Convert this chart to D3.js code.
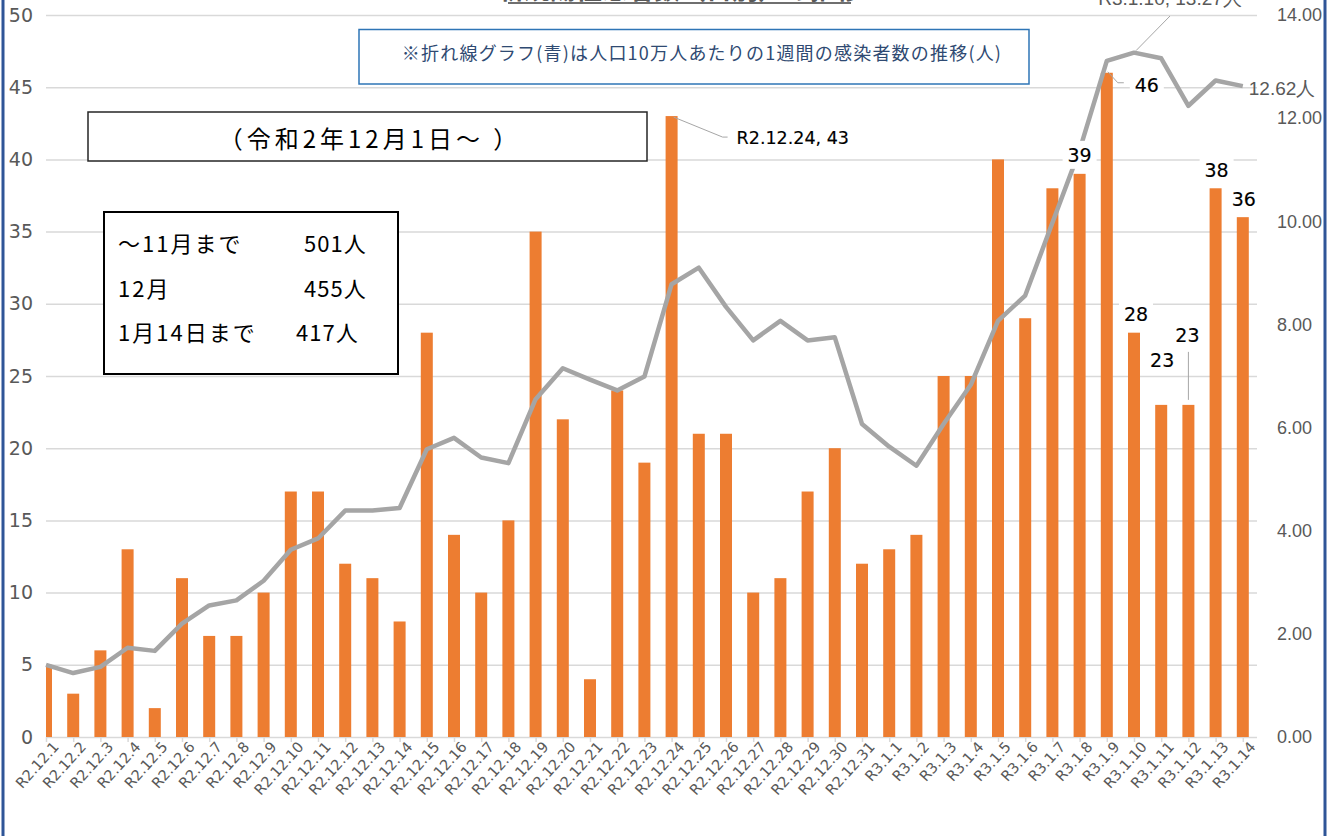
<!DOCTYPE html>
<html>
<head>
<meta charset="utf-8">
<script src="https://cdn.jsdelivr.net/npm/d3@7"></script>
<style>
  body { margin: 0; background: #fff; }
  svg { display: block; }
</style>
</head>
<body>
<div id="chart"></div>
<script>
// daily cases (bars, left axis) and weekly cases per 100k (line, right axis)
var categories = ["R2.12.1","R2.12.2","R2.12.3","R2.12.4","R2.12.5","R2.12.6","R2.12.7","R2.12.8","R2.12.9","R2.12.10",
  "R2.12.11","R2.12.12","R2.12.13","R2.12.14","R2.12.15","R2.12.16","R2.12.17","R2.12.18","R2.12.19","R2.12.20",
  "R2.12.21","R2.12.22","R2.12.23","R2.12.24","R2.12.25","R2.12.26","R2.12.27","R2.12.28","R2.12.29","R2.12.30",
  "R2.12.31","R3.1.1","R3.1.2","R3.1.3","R3.1.4","R3.1.5","R3.1.6","R3.1.7","R3.1.8","R3.1.9",
  "R3.1.10","R3.1.11","R3.1.12","R3.1.13","R3.1.14"];
var dailyCases = [5,3,6,13,2,11,7,7,10,17,17,12,11,8,28,14,10,15,35,22,4,24,19,43,21,21,10,11,17,20,12,
  13,14,25,25,40,29,38,39,46,28,23,23,38,36];
var weeklyPer100k = [1.40,1.24,1.36,1.73,1.67,2.20,2.55,2.65,3.03,3.63,3.85,4.39,4.39,4.44,5.58,5.80,5.42,5.31,
  6.55,7.15,6.93,6.72,6.99,8.78,9.10,8.34,7.69,8.07,7.69,7.75,6.07,5.63,5.26,6.07,6.83,8.07,8.56,9.97,
  11.38,13.11,13.27,13.16,12.24,12.73,12.62];
var leftTicks = [0,5,10,15,20,25,30,35,40,45,50];
var rightTicks = [0,2,4,6,8,10,12,14];
// bars that carry a value label (last days)
var labelledDays = ["R3.1.8","R3.1.9","R3.1.10","R3.1.11","R3.1.12","R3.1.13","R3.1.14"];
var summaryRows = [["～11月まで","501人"],["12月","455人"],["1月14日まで","417人"]];

function BuildChart()
{
    var W = 1338, H = 836;
    var plotL = 46, plotR = 1257, plotT = 15, plotB = 737;
    var jp = "'Noto Sans CJK JP', 'Noto Sans', sans-serif";
    var num = "'DejaVu Sans', sans-serif";
    var lib = "'Liberation Sans', Arial, sans-serif";

    var svg = d3.select("#chart").append("svg").attr("width", W).attr("height", H);

    var x = d3.scalePoint().domain(categories).range([plotL, plotL + 44 * 27.2]);
    var yL = d3.scaleLinear().domain([0, 50]).range([plotB, plotT]);
    var yR = d3.scaleLinear().domain([0, 14]).range([plotB, plotT]);

    svg.append("clipPath").attr("id", "plotclip")
        .append("rect").attr("x", plotL).attr("y", 0).attr("width", plotR - plotL).attr("height", H);

    // gridlines + left labels
    var gl = svg.append("g")
        .attr("transform", "translate(" + plotL + ",0)")
        .call(d3.axisLeft(yL).tickValues(leftTicks).tickSize(-(plotR - plotL)).tickPadding(13));
    gl.select(".domain").remove();
    gl.selectAll("line").attr("stroke", "#d9d9d9").attr("stroke-width", 1.5);
    gl.selectAll("text").attr("fill", "#595959").style("font-family", num).style("font-size", "19px");

    // x axis
    var gx = svg.append("g")
        .attr("transform", "translate(0," + plotB + ")")
        .call(d3.axisBottom(x).tickSize(5).tickPadding(4));
    gx.select(".domain").remove();
    gx.selectAll("line").attr("stroke", "#d9d9d9").attr("stroke-width", 1.5);
    gx.selectAll("text")
        .attr("fill", "#595959").style("font-family", num).style("font-size", "14.5px")
        .attr("text-anchor", "end")
        .attr("transform", "translate(5,3) rotate(-48)")
        .attr("dy", "0.35em").attr("y", 6);

    // right axis
    var gr = svg.append("g")
        .attr("transform", "translate(1271,0)")
        .call(d3.axisRight(yR).tickValues(rightTicks).tickSize(0).tickPadding(6).tickFormat(d3.format(".2f")));
    gr.select(".domain").remove();
    gr.selectAll("text").attr("fill", "#595959").style("font-family", lib).style("font-size", "18px");

    // bars
    svg.append("g").attr("clip-path", "url(#plotclip)")
        .selectAll("rect")
        .data(categories)
        .enter()
        .append("rect")
        .attr("x", function(d){ return x(d) - 6; })
        .attr("width", 12)
        .attr("y", function(d, i){ return yL(dailyCases[i]); })
        .attr("height", function(d, i){ return plotB - yL(dailyCases[i]); })
        .attr("fill", "#ED7D31");

    // line
    var line = d3.line()
        .x(function(d, i){ return x(categories[i]); })
        .y(function(d){ return yR(d); });
    svg.append("path")
        .datum(weeklyPer100k)
        .attr("d", line)
        .attr("fill", "none")
        .attr("stroke", "#A5A5A5")
        .attr("stroke-width", 4.5)
        .attr("stroke-linejoin", "round");

    // value labels on last bars
    var labelOffsets = {"R3.1.8":[0,-19], "R3.1.9":[40,12], "R3.1.10":[2,-19], "R3.1.11":[1,-45],
        "R3.1.12":[-1,-70], "R3.1.13":[1,-18], "R3.1.14":[1,-18]};
    // leader lines
    svg.append("polyline")
        .attr("points", [[x("R3.1.9") + 1, yL(46) - 1], [x("R3.1.9") + 11, yL(46) + 10], [x("R3.1.9") + 17, yL(46) + 10]].join(" "))
        .attr("fill", "none").attr("stroke", "#a6a6a6").attr("stroke-width", 1);
    svg.append("line")
        .attr("x1", x("R3.1.12")).attr("x2", x("R3.1.12"))
        .attr("y1", yL(23) - 53).attr("y2", yL(23) - 5)
        .attr("stroke", "#a6a6a6").attr("stroke-width", 1);

    labelledDays.forEach(function(d)
    {
        var i = categories.indexOf(d);
        var cx = x(d) + labelOffsets[d][0];
        var cy = yL(dailyCases[i]) + labelOffsets[d][1];
        svg.append("rect")
            .attr("x", cx - 17).attr("y", cy - 14).attr("width", 34).attr("height", 28)
            .attr("fill", "#fff");
        svg.append("text")
            .attr("x", cx).attr("y", cy)
            .attr("text-anchor", "middle").attr("dominant-baseline", "central")
            .style("font-family", num).style("font-size", "19px")
            .attr("fill", "#000").attr("stroke", "#000").attr("stroke-width", 0.15)
            .text(dailyCases[i]);
    });

    // annotation for R2.12.24
    var i24 = categories.indexOf("R2.12.24");
    svg.append("polyline")
        .attr("points", [[x("R2.12.24") + 2, yL(43) + 1], [x("R2.12.24") + 51, yL(43) + 21], [x("R2.12.24") + 56, yL(43) + 21]].join(" "))
        .attr("fill", "none").attr("stroke", "#a6a6a6").attr("stroke-width", 1);
    svg.append("text")
        .attr("x", x("R2.12.24") + 65).attr("y", yL(43) + 28)
        .style("font-family", num).style("font-size", "17.5px")
        .attr("fill", "#000").attr("stroke", "#000").attr("stroke-width", 0.15)
        .text("R2.12.24, " + dailyCases[i24]);

    // peak annotation for the line (cut off at top like the source)
    var i10 = categories.indexOf("R3.1.10");
    svg.append("line")
        .attr("x1", x("R3.1.10") + 2).attr("y1", yR(weeklyPer100k[i10]) - 2)
        .attr("x2", x("R3.1.10") + 36).attr("y2", 16)
        .attr("stroke", "#a6a6a6").attr("stroke-width", 1);
    svg.append("text")
        .attr("x", x("R3.1.10") + 36).attr("y", 5)
        .attr("text-anchor", "middle")
        .style("font-family", lib).style("font-size", "19px")
        .attr("fill", "#595959")
        .text("R3.1.10, " + weeklyPer100k[i10].toFixed(2) + "人");

    // last value of the line
    var last = weeklyPer100k.length - 1;
    svg.append("text")
        .attr("x", x(categories[last]) + 6).attr("y", yR(weeklyPer100k[last]) + 2)
        .attr("dominant-baseline", "central")
        .style("font-family", lib).style("font-size", "19px")
        .attr("fill", "#595959")
        .text(weeklyPer100k[last].toFixed(2) + "人");

    // title (mostly above the visible area, as in the source)
    svg.append("text")
        .attr("x", 680).attr("y", -1)
        .attr("text-anchor", "middle")
        .style("font-family", jp).style("font-size", "26px").style("font-weight", "bold")
        .attr("fill", "#595959")
        .text("新規陽性患者数（日別）の推移");
    svg.append("line")
        .attr("x1", 508).attr("x2", 851).attr("y1", 3).attr("y2", 3)
        .attr("stroke", "#6f6f6f").attr("stroke-width", 2);

    // note box (blue)
    svg.append("rect")
        .attr("x", 359).attr("y", 29.5).attr("width", 670).attr("height", 54.5)
        .attr("fill", "#fff").attr("stroke", "#2E75B6").attr("stroke-width", 1.5);
    svg.append("text")
        .attr("x", 702).attr("y", 52)
        .attr("text-anchor", "middle").attr("dominant-baseline", "central")
        .style("font-family", jp).style("font-size", "18px").style("letter-spacing", "1.2px")
        .attr("fill", "#2F4A72")
        .text("※折れ線グラフ(青)は人口10万人あたりの1週間の感染者数の推移(人)");

    // period box
    svg.append("rect")
        .attr("x", 88).attr("y", 112).attr("width", 559).attr("height", 49)
        .attr("fill", "#fff").attr("stroke", "#262626").attr("stroke-width", 1.5);
    svg.append("text")
        .attr("x", 370).attr("y", 137)
        .attr("text-anchor", "middle").attr("dominant-baseline", "central")
        .style("font-family", jp).style("font-size", "24px").style("letter-spacing", "4px")
        .attr("fill", "#000")
        .text("（令和2年12月1日～ ）");

    // summary box
    svg.append("rect")
        .attr("x", 104).attr("y", 212).attr("width", 294).attr("height", 162)
        .attr("fill", "#fff").attr("stroke", "#000").attr("stroke-width", 2);
    var rowY = [242, 287, 331];
    var valX = [304, 304, 296];
    summaryRows.forEach(function(r, i)
    {
        svg.append("text")
            .attr("x", 118).attr("y", rowY[i]).attr("dominant-baseline", "central")
            .style("font-family", jp).style("font-size", "22px").style("letter-spacing", "2px").attr("fill", "#000")
            .text(r[0]);
        svg.append("text")
            .attr("x", valX[i]).attr("y", rowY[i]).attr("dominant-baseline", "central")
            .style("font-family", jp).style("font-size", "22px").style("letter-spacing", "1px").attr("fill", "#000")
            .text(r[1]);
    });

    // side borders
    svg.append("line").attr("x1", 3).attr("x2", 3).attr("y1", 0).attr("y2", H)
        .attr("stroke", "#2F5597").attr("stroke-width", 3);
    svg.append("line").attr("x1", 1325).attr("x2", 1325).attr("y1", 0).attr("y2", H)
        .attr("stroke", "#2F5597").attr("stroke-width", 3);
}
BuildChart();
</script>
</body>
</html>
